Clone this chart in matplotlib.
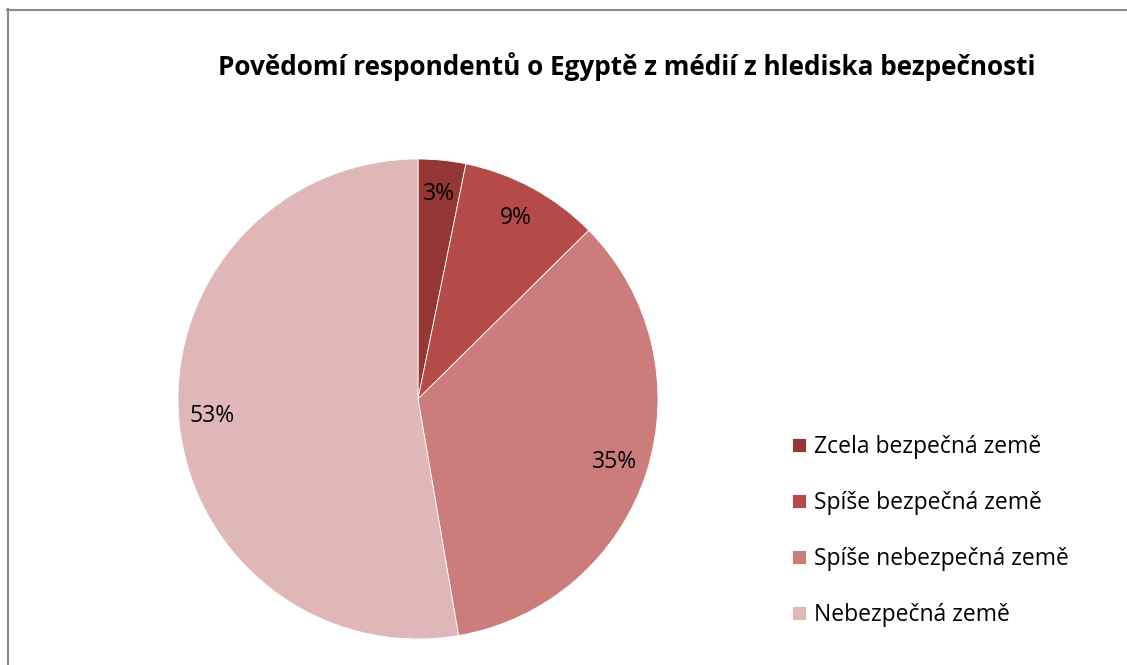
import matplotlib.pyplot as plt
from matplotlib.lines import Line2D

plt.rcParams['font.family'] = ['Open Sans', 'DejaVu Sans']

# data
categories = ['Zcela bezpečná země', 'Spíše bezpečná země',
              'Spíše nebezpečná země', 'Nebezpečná země']
values = [3.2, 9.4, 34.7, 52.7]
colors = ['#953735', '#b54b49', '#cb7c7b', '#dfb7b7']
title = 'Povědomí respondentů o Egyptě z médií z hlediska bezpečnosti'

W, H = 1127, 665
fig = plt.figure(figsize=(W / 100, H / 100), dpi=100)

# pie: center (418, 399), radius 240 px
cx, cy, r = 418, 399, 240
ax = fig.add_axes([(cx - r) / W, (H - cy - r) / H, 2 * r / W, 2 * r / H])
wedges, texts, autotexts = ax.pie(
    values, colors=colors, startangle=90, counterclock=False,
    autopct='%.0f%%', pctdistance=0.86,
    wedgeprops=dict(edgecolor='white', linewidth=0.6),
    textprops=dict(fontsize=16.5, color='black'))
ax.set_xlim(-1, 1)
ax.set_ylim(-1, 1)
ax.set_aspect('equal')

fig.text(627 / W, 1 - 67 / H, title, ha='center', va='center',
         fontsize=18.8, fontweight='bold')

ax.legend(wedges, categories, loc='center left',
          bbox_to_anchor=(792 / W, 1 - 531 / H), bbox_transform=fig.transFigure,
          frameon=False, fontsize=16.5, handlelength=0.6, handleheight=0.6,
          handletextpad=0.35, labelspacing=1.4, borderpad=0, borderaxespad=0)

# border (cropped at right and bottom)
fig.add_artist(Line2D([7.5 / W, 7.5 / W], [0, 1 - 9 / H], transform=fig.transFigure,
                      color='#8c8c8c', linewidth=1.5))
fig.add_artist(Line2D([7 / W, 1], [1 - 9.5 / H, 1 - 9.5 / H], transform=fig.transFigure,
                      color='#8c8c8c', linewidth=1.5))

fig.savefig('out.png', dpi=100)
